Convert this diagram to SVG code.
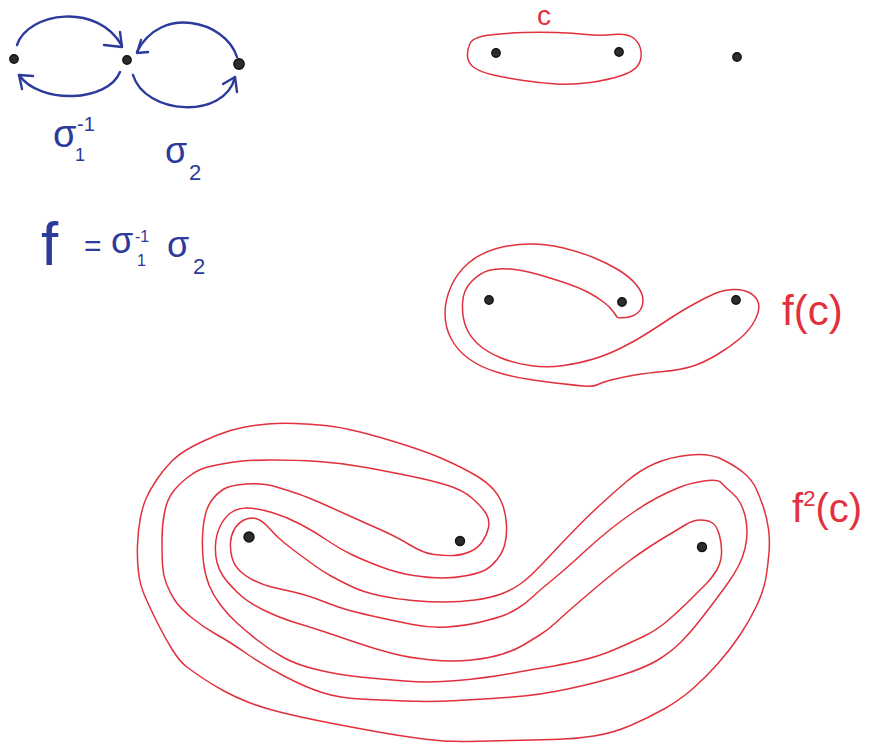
<svg xmlns="http://www.w3.org/2000/svg" width="876" height="747" viewBox="0 0 876 747">
<style>
.blue{fill:none;stroke:#2b3a9b;stroke-width:2.4;stroke-linecap:round;stroke-linejoin:round}
.red{fill:none;stroke:#e2303c;stroke-width:1.5;stroke-linejoin:round;stroke-linecap:round}
.dot{fill:#2c2c2c;stroke:#111;stroke-width:1.4}
.bt{fill:#2b3a9b;font-family:"Liberation Sans",Arial,sans-serif}
.rt{fill:#e2303c;font-family:"Liberation Sans",Arial,sans-serif}
</style>
<rect width="876" height="747" fill="#fff"/>

<g id="braid-generators">
  <g id="punctures-blue">
    <circle class="dot" cx="14" cy="59" r="4.2"/>
    <circle class="dot" cx="127" cy="60" r="4.2"/>
    <circle class="dot" cx="239" cy="64" r="5.2"/>
  </g>
  <g id="connectors">
    <path class="blue" d="M17,45 C28,12 98,2 122,46"/>
    <polyline class="blue" points="104,45 122,47 120,32"/>
    <path class="blue" d="M120,72 C108,102 40,105 19,75"/>
    <polyline class="blue" points="22,89 19,75 33,76"/>
    <path class="blue" d="M237,57 C225,20 160,5 137,52"/>
    <polyline class="blue" points="148,52 137,53 141,40"/>
    <path class="blue" d="M133,75 C145,115 225,120 235,77"/>
    <polyline class="blue" points="223,84 235,77 237,92"/>
  </g>
  <g id="label-sigma1inv">
    <text class="bt" x="53" y="147" font-size="38">σ</text>
    <text class="bt" x="77" y="131" font-size="20">-1</text>
    <text class="bt" x="75" y="161" font-size="18">1</text>
  </g>
  <g id="label-sigma2">
    <text class="bt" x="165" y="163" font-size="36">σ</text>
    <text class="bt" x="189" y="180" font-size="22">2</text>
  </g>
  <g id="formula">
    <text class="bt" x="41" y="265" font-size="62">f</text>
    <text class="bt" x="84" y="256" font-size="30">=</text>
    <text class="bt" x="111" y="253" font-size="36">σ</text>
    <text class="bt" x="135" y="242" font-size="16">-1</text>
    <text class="bt" x="137" y="266" font-size="16">1</text>
    <text class="bt" x="167" y="257" font-size="36">σ</text>
    <text class="bt" x="193" y="274" font-size="22">2</text>
  </g>
</g>

<g id="curve-c">
  <path class="red" d="M467.5,56.5 Q467,50 470,43.5 Q473,37 490,35 Q507,33 523.5,32.5 Q540,32 556.5,32.5 Q573,33 586.5,34.5 Q600,36 613.5,34.5 Q627,33 633.5,38 Q640,43 641,51.5 Q642,60 637.5,66 Q633,72 620,76 Q607,80 590,82.5 Q573,85 556.5,84 Q540,83 523.5,80.5 Q507,78 493.5,75 Q480,72 474,67.5 Q468,63 467.5,56.5 Z"/>
  <circle class="dot" cx="496" cy="53" r="4.2"/>
  <circle class="dot" cx="619" cy="52" r="4.2"/>
  <circle class="dot" cx="737" cy="57" r="4.2"/>
  <text class="rt" x="537" y="25" font-size="28">c</text>
</g>

<g id="curve-fc">
  <path class="red" d="M617.5,317.5 Q618,318 625.5,317.5 Q633,317 638,312.5 Q643,308 643,300.5 Q643,293 636.5,285 Q630,277 618.5,270 Q607,263 593.5,257.5 Q580,252 563.5,248 Q547,244 530,244 Q513,244 496.5,248.5 Q480,253 468.5,263 Q457,273 451,286.5 Q445,300 445,313.5 Q445,327 451,338.5 Q457,350 468.5,358.5 Q480,367 496.5,372 Q513,377 530,379.5 Q547,382 560,383.5 Q573,385 583,386 Q593,387 598,384.5 Q603,382 613,379.5 Q623,377 635,375 Q647,373 663.5,371.5 Q680,370 691.5,366.5 Q703,363 716.5,355 Q730,347 740,338.5 Q750,330 755,320 Q760,310 758.5,303.5 Q757,297 750,293 Q743,289 733,289.5 Q723,290 715,293.5 Q707,297 695,303.5 Q683,310 673,316.5 Q663,323 650,331.5 Q637,340 622,347.5 Q607,355 593.5,359 Q580,363 563.5,365.5 Q547,368 530,365.5 Q513,363 500,357.5 Q487,352 478.5,344.5 Q470,337 466,327 Q462,317 462.5,303.5 Q463,290 471.5,281.5 Q480,273 488.5,270.5 Q497,268 510,269 Q523,270 540,275 Q557,280 568.5,284 Q580,288 588.5,292.5 Q597,297 603.5,302 Q610,307 613.5,312 Q617,317 617.5,317.5 Z"/>
  <circle class="dot" cx="489" cy="300" r="4.2"/>
  <circle class="dot" cx="622" cy="302" r="4.2"/>
  <circle class="dot" cx="736" cy="300" r="4.2"/>
  <text class="rt" x="782" y="325" font-size="42">f(c)</text>
</g>

<g id="curve-f2c">
  <path class="red" d="M721.5,483 Q718,479 704,481 Q690,483 679,487.5 Q668,492 657.5,497.5 Q647,503 634.5,511.5 Q622,520 609.5,530 Q597,540 583.5,552.5 Q570,565 560,573.5 Q550,582 545,586 Q540,590 532.5,597 Q525,604 517.5,608.5 Q510,613 503.5,615.5 Q497,618 481,622 Q465,626 447.5,627 Q430,628 412.5,624.5 Q395,621 379,617.5 Q363,614 351.5,611 Q340,608 323.5,601.5 Q307,595 293.5,592 Q280,589 271.5,587 Q263,585 254,580.5 Q245,576 239.5,570.5 Q234,565 232,557.5 Q230,550 230.5,542.5 Q231,535 234.5,529 Q238,523 244,520 Q250,517 256,518.5 Q262,520 269.5,528.5 Q277,537 284.5,543 Q292,549 299.5,554.5 Q307,560 314.5,565.5 Q322,571 331,576 Q340,581 351.5,586.5 Q363,592 379,595.5 Q395,599 412.5,600.5 Q430,602 445,602 Q460,602 475,600 Q490,598 501,594 Q512,590 521,583.5 Q530,577 544,562 Q558,547 572.5,532 Q587,517 599.5,505.5 Q612,494 626,482 Q640,470 655,463.5 Q670,457 690,455 Q710,453 723.5,460 Q737,467 744.5,473.5 Q752,480 756,488.5 Q760,497 763.5,507.5 Q767,518 768.5,529 Q770,540 769,552.5 Q768,565 766,577.5 Q764,590 757,605 Q750,620 740,635 Q730,650 718,663.5 Q706,677 693,688.5 Q680,700 664,709 Q648,718 630.5,725.5 Q613,733 594,736 Q575,739 552.5,739.5 Q530,740 510,740.5 Q490,741 468.5,741.5 Q447,742 423.5,739 Q400,736 370,730.5 Q340,725 320,721 Q300,717 281.5,712.5 Q263,708 249,702.5 Q235,697 224,691 Q213,685 204,679 Q195,673 187.5,667.5 Q180,662 172.5,650 Q165,638 157.5,623 Q150,608 145,596.5 Q140,585 138.5,572.5 Q137,560 137.5,545 Q138,530 140.5,517.5 Q143,505 146.5,497.5 Q150,490 156.5,480 Q163,470 171.5,461.5 Q180,453 192.5,446.5 Q205,440 217.5,435 Q230,430 242.5,427.5 Q255,425 267.5,424 Q280,423 295,423.5 Q310,424 325,425.5 Q340,427 360,432 Q380,437 405,445 Q430,453 446.5,460.5 Q463,468 475,475 Q487,482 493.5,489.5 Q500,497 503,506 Q506,515 506.5,525 Q507,535 505,543.5 Q503,552 497.5,559 Q492,566 486,569.5 Q480,573 467.5,575.5 Q455,578 442.5,578 Q430,578 413.5,575.5 Q397,573 380,566.5 Q363,560 351.5,554.5 Q340,549 327.5,540.5 Q315,532 301,524.5 Q287,517 272,512.5 Q257,508 247,508 Q237,508 230.5,513 Q224,518 220,526.5 Q216,535 215.5,545 Q215,555 217,562.5 Q219,570 223,576 Q227,582 237,592 Q247,602 263.5,610 Q280,618 295,622.5 Q310,627 325,632 Q340,637 357.5,643 Q375,649 392.5,653.5 Q410,658 431.5,660 Q453,662 471.5,660 Q490,658 502.5,654 Q515,650 522.5,645.5 Q530,641 539,635.5 Q548,630 556.5,622 Q565,614 579,602 Q593,590 605,580 Q617,570 628.5,561.5 Q640,553 650,546.5 Q660,540 668.5,535 Q677,530 685,525 Q693,520 700.5,520 Q708,520 712.5,523 Q717,526 719.5,535.5 Q722,545 721.5,554 Q721,563 716.5,570.5 Q712,578 706,584 Q700,590 690,600 Q680,610 668.5,620 Q657,630 643.5,636.5 Q630,643 613.5,650 Q597,657 578.5,661 Q560,665 545,667.5 Q530,670 507.5,674 Q485,678 457.5,680.5 Q430,683 405,681 Q380,679 360,677 Q340,675 318.5,670 Q297,665 283.5,657.5 Q270,650 258.5,641 Q247,632 237.5,623.5 Q228,615 220.5,605 Q213,595 209,585 Q205,575 203.5,562.5 Q202,550 202.5,537.5 Q203,525 205,516 Q207,507 211.5,500.5 Q216,494 223,489.5 Q230,485 246.5,484 Q263,483 276.5,487 Q290,491 298.5,494 Q307,497 318.5,502 Q330,507 346.5,514.5 Q363,522 380,529.5 Q397,537 410,545 Q423,553 434,554.5 Q445,556 454,555.5 Q463,555 470.5,551.5 Q478,548 482.5,541.5 Q487,535 488.5,527.5 Q490,520 486,513.5 Q482,507 472.5,498.5 Q463,490 446.5,485 Q430,480 405,475 Q380,470 360,466.5 Q340,463 318.5,461.5 Q297,460 272,460 Q247,460 231,462.5 Q215,465 206,467.5 Q197,470 187.5,477.5 Q178,485 172.5,492.5 Q167,500 164.5,512.5 Q162,525 162,540 Q162,555 162.5,565 Q163,575 166.5,584 Q170,593 175,600.5 Q180,608 191.5,617.5 Q203,627 216.5,634.5 Q230,642 246.5,653.5 Q263,665 285,676.5 Q307,688 323.5,693 Q340,698 360,699 Q380,700 405,701 Q430,702 457.5,700.5 Q485,699 512.5,697 Q540,695 570,688.5 Q600,682 623.5,674.5 Q647,667 659.5,659 Q672,651 681,642 Q690,633 699,621.5 Q708,610 715.5,600 Q723,590 729,581.5 Q735,573 739,565 Q743,557 745,548.5 Q747,540 747,531.5 Q747,523 745,515.5 Q743,508 740,502.5 Q737,497 731,492 Q725,487 721.5,483 Z"/>
  <circle class="dot" cx="249" cy="537" r="5"/>
  <circle class="dot" cx="460" cy="541" r="4.5"/>
  <circle class="dot" cx="702" cy="547" r="4.5"/>
  <text class="rt" x="792" y="522" font-size="40">f<tspan dy="-16" font-size="22">2</tspan><tspan dy="16">(c)</tspan></text>
</g>
</svg>
